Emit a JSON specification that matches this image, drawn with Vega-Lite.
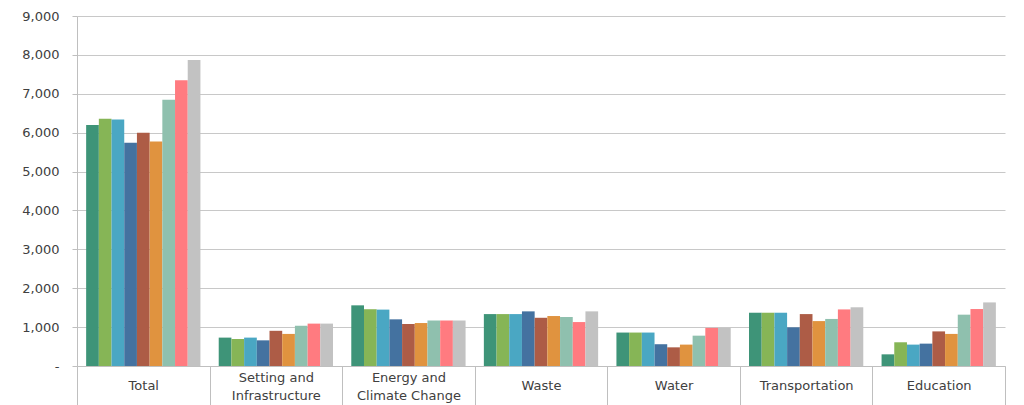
{
  "$schema": "https://vega.github.io/schema/vega-lite/v6.json",
  "width": 928,
  "height": 350,
  "autosize": {"type": "none"},
  "padding": {"left": 77, "top": 16, "right": 19, "bottom": 39},
  "background": "#ffffff",
  "config": {"view": {"stroke": null}},
  "datasets": {
    "main": [
      {"category": "Total", "series": 1, "value": 6200},
      {"category": "Total", "series": 2, "value": 6360},
      {"category": "Total", "series": 3, "value": 6340},
      {"category": "Total", "series": 4, "value": 5740},
      {"category": "Total", "series": 5, "value": 6000},
      {"category": "Total", "series": 6, "value": 5775},
      {"category": "Total", "series": 7, "value": 6845},
      {"category": "Total", "series": 8, "value": 7345},
      {"category": "Total", "series": 9, "value": 7870},
      {"category": "Setting and Infrastructure", "series": 1, "value": 730},
      {"category": "Setting and Infrastructure", "series": 2, "value": 695},
      {"category": "Setting and Infrastructure", "series": 3, "value": 730},
      {"category": "Setting and Infrastructure", "series": 4, "value": 660},
      {"category": "Setting and Infrastructure", "series": 5, "value": 905},
      {"category": "Setting and Infrastructure", "series": 6, "value": 825},
      {"category": "Setting and Infrastructure", "series": 7, "value": 1035},
      {"category": "Setting and Infrastructure", "series": 8, "value": 1090},
      {"category": "Setting and Infrastructure", "series": 9, "value": 1090},
      {"category": "Energy and Climate Change", "series": 1, "value": 1560},
      {"category": "Energy and Climate Change", "series": 2, "value": 1460},
      {"category": "Energy and Climate Change", "series": 3, "value": 1450},
      {"category": "Energy and Climate Change", "series": 4, "value": 1200},
      {"category": "Energy and Climate Change", "series": 5, "value": 1080},
      {"category": "Energy and Climate Change", "series": 6, "value": 1105},
      {"category": "Energy and Climate Change", "series": 7, "value": 1170},
      {"category": "Energy and Climate Change", "series": 8, "value": 1170},
      {"category": "Energy and Climate Change", "series": 9, "value": 1170},
      {"category": "Waste", "series": 1, "value": 1335},
      {"category": "Waste", "series": 2, "value": 1335},
      {"category": "Waste", "series": 3, "value": 1335},
      {"category": "Waste", "series": 4, "value": 1405},
      {"category": "Waste", "series": 5, "value": 1240},
      {"category": "Waste", "series": 6, "value": 1285},
      {"category": "Waste", "series": 7, "value": 1260},
      {"category": "Waste", "series": 8, "value": 1130},
      {"category": "Waste", "series": 9, "value": 1405},
      {"category": "Water", "series": 1, "value": 860},
      {"category": "Water", "series": 2, "value": 860},
      {"category": "Water", "series": 3, "value": 860},
      {"category": "Water", "series": 4, "value": 560},
      {"category": "Water", "series": 5, "value": 480},
      {"category": "Water", "series": 6, "value": 550},
      {"category": "Water", "series": 7, "value": 780},
      {"category": "Water", "series": 8, "value": 980},
      {"category": "Water", "series": 9, "value": 980},
      {"category": "Transportation", "series": 1, "value": 1370},
      {"category": "Transportation", "series": 2, "value": 1370},
      {"category": "Transportation", "series": 3, "value": 1370},
      {"category": "Transportation", "series": 4, "value": 995},
      {"category": "Transportation", "series": 5, "value": 1335},
      {"category": "Transportation", "series": 6, "value": 1155},
      {"category": "Transportation", "series": 7, "value": 1210},
      {"category": "Transportation", "series": 8, "value": 1455},
      {"category": "Transportation", "series": 9, "value": 1510},
      {"category": "Education", "series": 1, "value": 300},
      {"category": "Education", "series": 2, "value": 610},
      {"category": "Education", "series": 3, "value": 550},
      {"category": "Education", "series": 4, "value": 575},
      {"category": "Education", "series": 5, "value": 890},
      {"category": "Education", "series": 6, "value": 825},
      {"category": "Education", "series": 7, "value": 1320},
      {"category": "Education", "series": 8, "value": 1465},
      {"category": "Education", "series": 9, "value": 1635}
    ]
  },
  "data": {"name": "main"},
  "mark": {"type": "bar"},
  "encoding": {
    "x": {
      "field": "category",
      "type": "nominal",
      "sort": null,
      "scale": {"paddingInner": 0, "paddingOuter": 0},
      "axis": {
        "title": null,
        "labelAngle": 0,
        "labelFont": "DejaVu Sans",
        "labelFontSize": 13,
        "labelColor": "#404040",
        "labelPadding": {"condition": {"test": "datum.value == 'Setting and Infrastructure' || datum.value == 'Energy and Climate Change'", "value": -29}, "value": -21},
        "labelLineHeight": 18,
        "labelExpr": "datum.value == 'Setting and Infrastructure' ? ['Setting and', 'Infrastructure'] : datum.value == 'Energy and Climate Change' ? ['Energy and', 'Climate Change'] : datum.value",
        "tickBand": "extent",
        "tickSize": 40,
        "tickColor": "#bfbfbf",
        "domainColor": "#bfbfbf",
        "labelBaseline": "middle"
      }
    },
    "xOffset": {
      "field": "series",
      "type": "nominal",
      "scale": {"paddingInner": 0, "paddingOuter": 0.72}
    },
    "y": {
      "field": "value",
      "type": "quantitative",
      "scale": {"domain": [0, 9000], "nice": false},
      "axis": {
        "title": null,
        "values": [0, 1000, 2000, 3000, 4000, 5000, 6000, 7000, 8000, 9000],
        "labelExpr": "datum.value == 0 ? '-' : format(datum.value, ',')",
        "labelFont": "DejaVu Sans",
        "labelFontSize": 13,
        "labelColor": "#404040",
        "labelPadding": 13,
        "tickSize": 5,
        "tickColor": "#bfbfbf",
        "domainColor": "#bfbfbf",
        "gridColor": "#c8c8c8",
        "grid": true
      }
    },
    "color": {
      "field": "series",
      "type": "nominal",
      "legend": null,
      "scale": {
        "range": ["#3e9478", "#86b556", "#4aa7c3", "#4472a0", "#ad5c46", "#e0933f", "#8fc0ae", "#ff7b80", "#c2c2c2"]
      }
    }
  }
}
